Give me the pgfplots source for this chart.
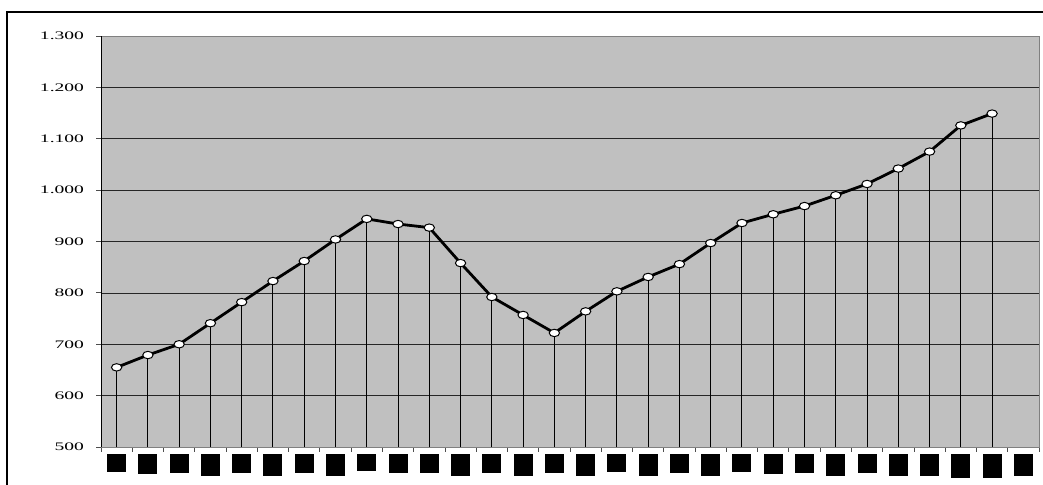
\documentclass[border=0pt]{standalone}
\usepackage{fontspec}
\setmainfont{Liberation Serif}
\usepackage{graphicx}
\usepackage{pgfplots}
\pgfplotsset{compat=1.18}
\definecolor{plotgray}{HTML}{C0C0C0}
\definecolor{edgegray}{HTML}{808080}
\pgfplotstableread{
x y
1 655
2 679
3 700
4 741
5 782
6 823
7 862
8 904
9 944
10 934
11 927
12 858
13 792
14 757
15 722
16 764
17 803
18 831
19 856
20 897
21 936
22 953
23 969
24 990
25 1012
26 1042
27 1075
28 1126
29 1149
}\datatable
\newcommand{\yl}[1]{\scalebox{1.7}[1]{#1}}
\newcommand{\bx}[1]{\rule{19bp}{#1bp}}
\begin{document}
\begin{tikzpicture}
\begin{axis}[
  name=ax,
  at={(0,0)}, anchor=south west,
  scale only axis, width=938bp, height=411bp,
  xmin=0.5, xmax=30.5, ymin=500, ymax=1300,
  axis background/.style={fill=plotgray},
  axis line style={draw=edgegray, line width=0.9bp},
  xtick={0.5,1.5,...,30.5},
  xticklabels={},
  ytick={500,600,...,1300},
  yticklabels={\yl{500},\yl{600},\yl{700},\yl{800},\yl{900},\yl{1.000},\yl{1.100},\yl{1.200},\yl{1.300}},
  yticklabel style={font=\fontsize{11.5bp}{13bp}\selectfont, black, xshift=-9bp},
  ymajorgrids, grid style={black!85, line width=0.7bp},
  tick align=outside,
  xtick pos=bottom, ytick pos=left,
  major tick length=4.5bp,
  tick style={edgegray!60!black, line width=0.8bp},
  extra x ticks={1,...,30},
  extra x tick labels={\bx{18},\bx{20},\bx{19},\bx{22},\bx{19},\bx{22},\bx{19},\bx{22},\bx{17},\bx{19},\bx{19},\bx{22},\bx{19},\bx{22},\bx{19},\bx{22},\bx{18},\bx{22},\bx{19},\bx{22},\bx{18},\bx{20},\bx{19},\bx{22},\bx{19},\bx{22},\bx{22},\bx{24},\bx{24},\bx{22}},
  extra x tick style={major tick length=0pt, grid=none, xticklabel style={anchor=north, inner sep=0pt, yshift=-7bp}},
]
\addplot[ycomb, black, line width=1bp, mark=none] table[x=x,y=y] {\datatable};
\addplot[black, line width=2.8bp, mark=*, mark size=3.7bp,
  mark options={fill=white, draw=black, line width=1bp, xscale=1.4, solid}] table[x=x,y=y] {\datatable};
\end{axis}
\draw[black, line width=1bp] (ax.south west) -- (ax.north west);
\draw[black, line width=1.2bp] (-94bp,-45bp) |- (950bp,435bp);
\pgfresetboundingbox
\useasboundingbox (-101bp,-38bp) rectangle (942bp,447bp);
\end{tikzpicture}
\end{document}
